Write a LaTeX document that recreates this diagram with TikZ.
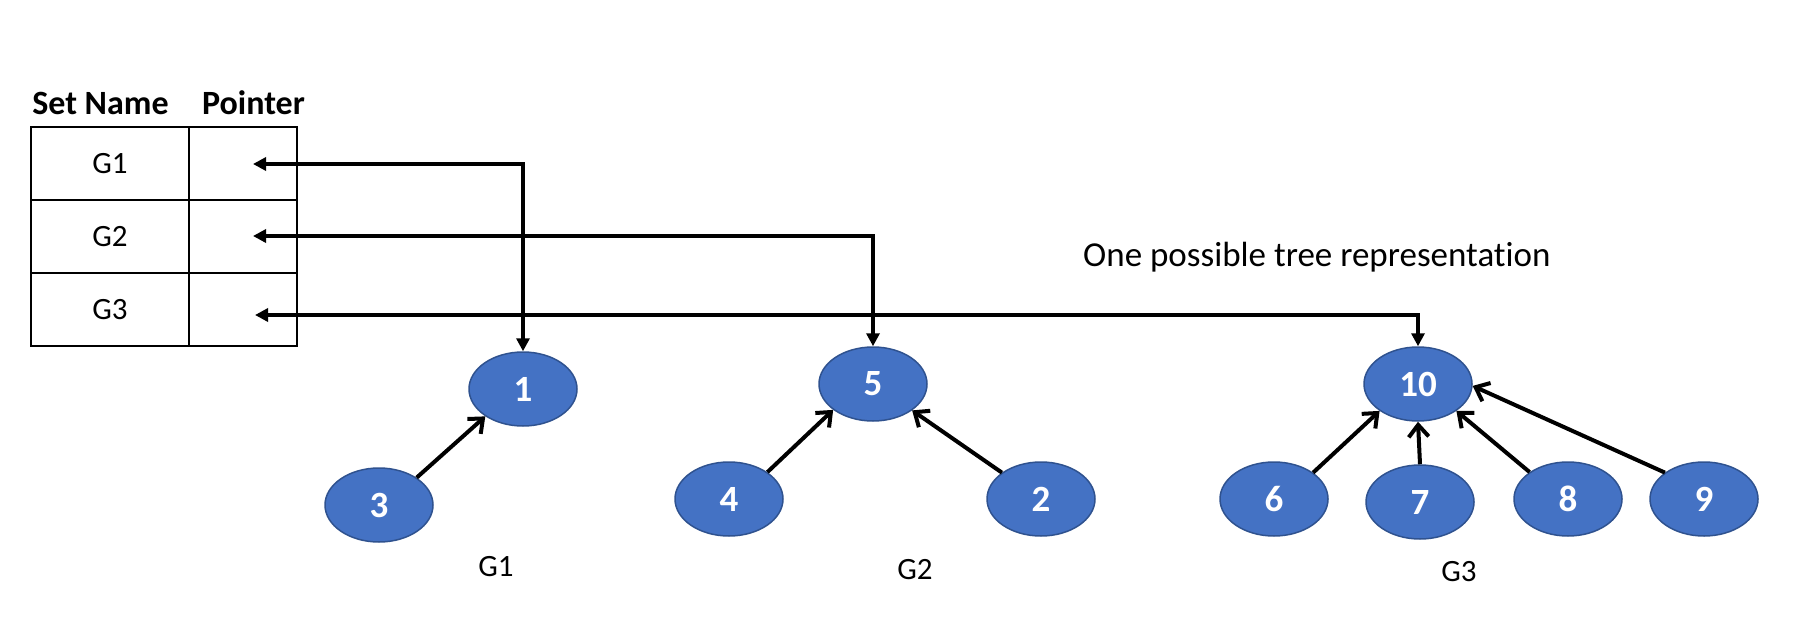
\documentclass[tikz,border=0pt]{standalone}
\usepackage{fontspec}
\setmainfont[Ligatures=NoCommon]{Carlito}
\usetikzlibrary{shapes.geometric,arrows.meta}
\definecolor{nodeblue}{HTML}{4472C4}
\definecolor{nodeedge}{HTML}{2F528F}
\begin{document}
\begin{tikzpicture}[x=1pt,y=-1pt,
  elem/.style={ellipse, draw=nodeedge, line width=1.5pt, fill=nodeblue,
    minimum width=108pt, minimum height=74pt, inner sep=0pt, text=white,
    font=\fontsize{37}{40}\selectfont\bfseries},
  namecell/.style={rectangle, draw, line width=1.5pt, minimum width=158pt,
    minimum height=73pt, inner sep=0pt, font=\fontsize{31}{36}\selectfont},
  ptrcell/.style={rectangle, draw, line width=1.5pt, minimum width=108pt,
    minimum height=73pt, inner sep=0pt},
  head/.style={font=\fontsize{34}{40}\selectfont\bfseries, anchor=base, inner sep=0pt},
  lbl/.style={font=\fontsize{31}{36}\selectfont, anchor=base, inner sep=0pt},
  ptr/.style={line width=4pt,
    {Triangle[length=13pt,width=13pt]}-{Triangle[length=13pt,width=13pt]}},
  link/.style={line width=4pt, -{Straight Barb[length=12pt,width=20pt]}, line join=round}]

\useasboundingbox (0,0) rectangle (1809,621);

% set table
\node[head] (hname) at (100.5,114) {Set Name};
\node[head] (hptr) at (253.5,114) {Pointer};
\node[namecell] (s1) at (110,163.5) {G1};
\node[namecell] (s2) at (110,236.5) {G2};
\node[namecell] (s3) at (110,309.5) {G3};
\node[ptrcell] (p1) at (243,163.5) {};
\node[ptrcell] (p2) at (243,236.5) {};
\node[ptrcell] (p3) at (243,309.5) {};
\coordinate (t1) at (253,164);
\coordinate (t2) at (253,236);
\coordinate (t3) at (255,315);

% trees
\node[elem] (n1) at (523,389) {1};
\node[elem] (n3) at (379,505) {3};
\node[elem] (n5) at (873,384) {5};
\node[elem] (n4) at (729,499) {4};
\node[elem] (n2) at (1041,499) {2};
\node[elem] (n10) at (1418,384) {10};
\node[elem] (n6) at (1274,499) {6};
\node[elem] (n7) at (1420,502) {7};
\node[elem] (n8) at (1568,499) {8};
\node[elem] (n9) at (1704,499) {9};

% group labels
\node[lbl] (g1) at (496,576) {G1};
\node[lbl] (g2) at (915,579) {G2};
\node[lbl] (g3) at (1459,581) {G3};
\node[lbl, font=\fontsize{35}{40}\selectfont, anchor=base west] (cap) at (1083,266) {One possible tree representation};

% pointers from the table to the roots
\draw[ptr] (t1) -| (n1.north);
\draw[ptr] (t2) -| (n5.north);
\draw[ptr] (t3) -| (n10.north);

% parent links
\draw[link] (n3.36) -- (n1.216);
\draw[link] (n4.35) -- (n5.213);
\draw[link] (n2.146) -- (n5.-34);
\draw[link] (n6.34) -- (n10.215);
\draw[link] (n7.north) -- (n10.south);
\draw[link] (n8.145) -- (n10.-35);
\draw[link] (n9.146) -- (n10.-2);
\end{tikzpicture}
\end{document}
